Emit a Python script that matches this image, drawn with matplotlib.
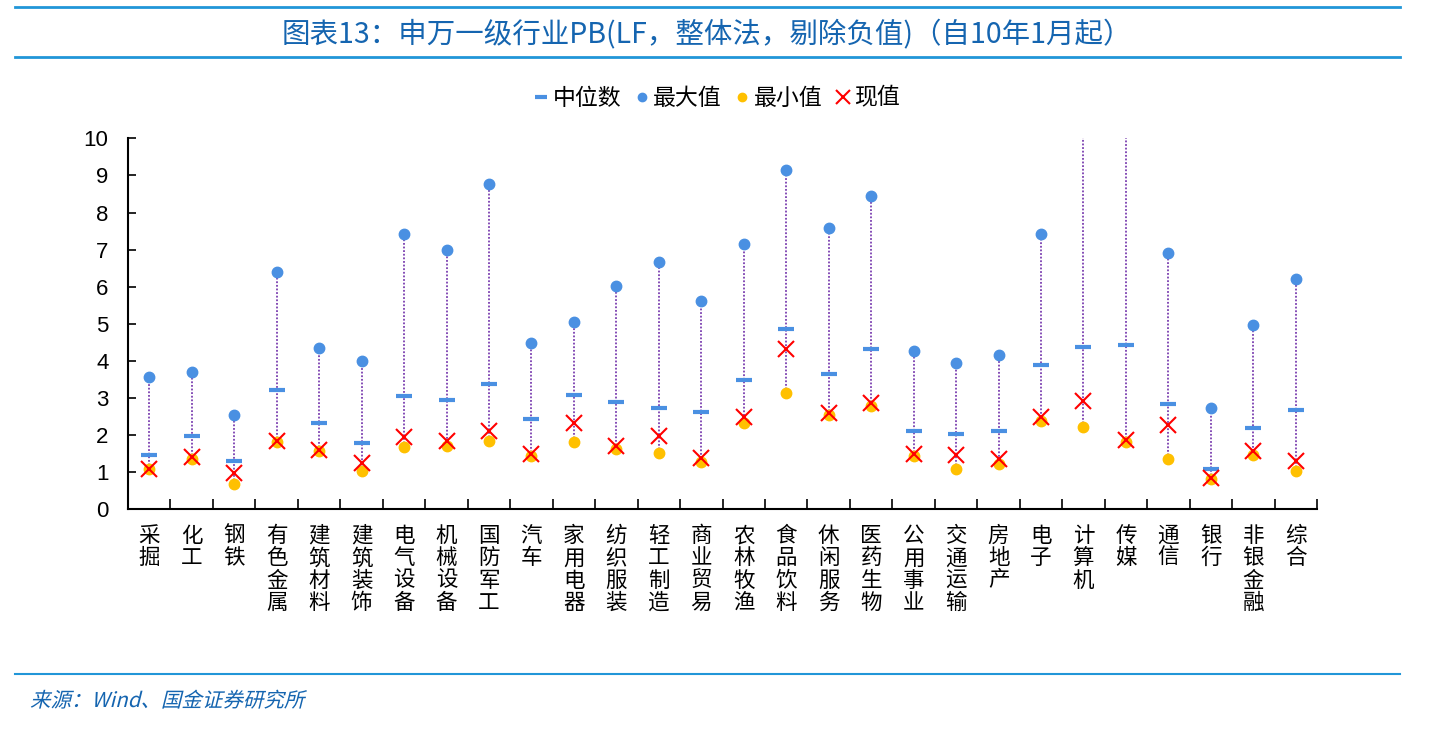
import matplotlib
matplotlib.use('Agg')
import matplotlib.pyplot as plt
from matplotlib.lines import Line2D
from matplotlib.textpath import TextPath
from matplotlib.patches import PathPatch
from matplotlib.font_manager import FontProperties
from matplotlib.transforms import Affine2D, IdentityTransform
import numpy as np

plt.rcParams['font.family'] = ['Liberation Sans', 'Noto Sans CJK SC', 'DejaVu Sans']

# Industries (Shenwan level 1)
industries = ['采掘', '化工', '钢铁', '有色金属', '建筑材料', '建筑装饰', '电气设备', '机械设备',
              '国防军工', '汽车', '家用电器', '纺织服装', '轻工制造', '商业贸易', '农林牧渔',
              '食品饮料', '休闲服务', '医药生物', '公用事业', '交通运输', '房地产', '电子',
              '计算机', '传媒', '通信', '银行', '非银金融', '综合']

pb_max = [3.57, 3.71, 2.53, 6.41, 4.35, 3.99, 7.42, 6.98, 8.76, 4.47, 5.04, 6.01, 6.66, 5.61,
          7.14, 9.16, 7.59, 8.44, 4.28, 3.95, 4.15, 7.43, 12.5, 12.0, 6.90, 2.74, 4.97, 6.22]
pb_median = [1.46, 1.99, 1.30, 3.21, 2.32, 1.79, 3.05, 2.96, 3.37, 2.43, 3.08, 2.88, 2.72, 2.63,
             3.49, 4.86, 3.64, 4.33, 2.11, 2.03, 2.11, 3.89, 4.37, 4.42, 2.84, 1.10, 2.20, 2.68]
pb_min = [1.08, 1.36, 0.67, 1.82, 1.57, 1.04, 1.69, 1.72, 1.85, 1.44, 1.81, 1.63, 1.53, 1.28,
          2.34, 3.13, 2.54, 2.79, 1.44, 1.08, 1.21, 2.39, 2.23, 1.82, 1.37, 0.82, 1.46, 1.04]
pb_now = [1.10, 1.42, 0.97, 1.85, 1.60, 1.26, 1.96, 1.84, 2.11, 1.49, 2.32, 1.71, 1.98, 1.39,
          2.50, 4.33, 2.61, 2.86, 1.49, 1.46, 1.36, 2.48, 2.92, 1.87, 2.27, 0.84, 1.58, 1.30]

blue = '#4a90e2'
gold = '#ffc000'
title_blue = '#1565b0'
rule_blue = '#2196d8'

fig = plt.figure(figsize=(14.4, 7.32), dpi=100)
ax = fig.add_axes([0.0889, 0.3042, 0.8257, 0.5068])

x = np.arange(len(industries))

# dotted range lines from min to max
ax.vlines(x, pb_min, pb_max, colors='#7b3fb0', linestyles=(0, (1, 1)), linewidth=1.3, zorder=1)

ax.plot(x, pb_max, 'o', color=blue, markersize=7.5, linestyle='none', zorder=3)
ax.plot(x, pb_min, 'o', color=gold, markersize=7.5, linestyle='none', zorder=3)
ax.plot(x, pb_median, '_', color=blue, markersize=11, markeredgewidth=3, linestyle='none', zorder=3)
ax.plot(x, pb_now, 'x', color='#ff0000', markersize=11, markeredgewidth=1.5, linestyle='none', zorder=4)

ax.set_xlim(-0.5, len(industries) - 0.5)
ax.set_ylim(0, 10)
ax.set_yticks(range(0, 11))
ax.tick_params(axis='y', direction='in', length=6, width=1.2, labelsize=16, pad=14)

ax.set_xticks(np.arange(len(industries) + 1) - 0.5)
ax.set_xticklabels([])
ax.tick_params(axis='x', direction='in', length=7, width=1.2)
for i, name in enumerate(industries):
    ax.text(i, -0.42, '\n'.join(name), ha='center', va='top', fontsize=15.5,
            linespacing=1.02, family=['Noto Sans CJK SC'])

for s in ['top', 'right']:
    ax.spines[s].set_visible(False)
for s in ['left', 'bottom']:
    ax.spines[s].set_linewidth(1.5)

# legend
handles = [Line2D([], [], marker='_', color=blue, markersize=9, markeredgewidth=3, linestyle='none'),
           Line2D([], [], marker='o', color=blue, markersize=6, linestyle='none'),
           Line2D([], [], marker='o', color=gold, markersize=6, linestyle='none'),
           Line2D([], [], marker='x', color='#ff0000', markersize=10, markeredgewidth=1.5, linestyle='none')]
fig.legend(handles, ['中位数', '最大值', '最小值', '现值'], loc='center', bbox_to_anchor=(0.498, 0.866),
           ncol=4, frameon=False, handlelength=0.6, handletextpad=0.2, columnspacing=0.6,
           prop={'family': ['Noto Sans CJK SC'], 'size': 16.5})

# header / footer rules
fig.add_artist(Line2D([0.0104, 0.9722], [0.990, 0.990], color=rule_blue, linewidth=2))
fig.add_artist(Line2D([0.0104, 0.9722], [0.922, 0.922], color=rule_blue, linewidth=2))
fig.add_artist(Line2D([0.0104, 0.9722], [0.079, 0.079], color=rule_blue, linewidth=1.5))

fig.text(0.491, 0.952, '图表13：申万一级行业PB(LF，整体法，剔除负值)（自10年1月起）',
         ha='center', va='center', fontsize=20.5, color=title_blue,
         family=['Noto Sans CJK SC'])

# italic source line (CJK font has no italic, so shear the glyph outlines)
src = TextPath((0, 0), '来源：Wind、国金证券研究所', size=20.5,
               prop=FontProperties(family='Noto Sans CJK SC'))
src_tr = Affine2D().skew_deg(14, 0).translate(30, 732 - 707) + IdentityTransform()
fig.add_artist(PathPatch(src, facecolor=title_blue, edgecolor='none', transform=src_tr))

fig.savefig('out.png', dpi=100)
